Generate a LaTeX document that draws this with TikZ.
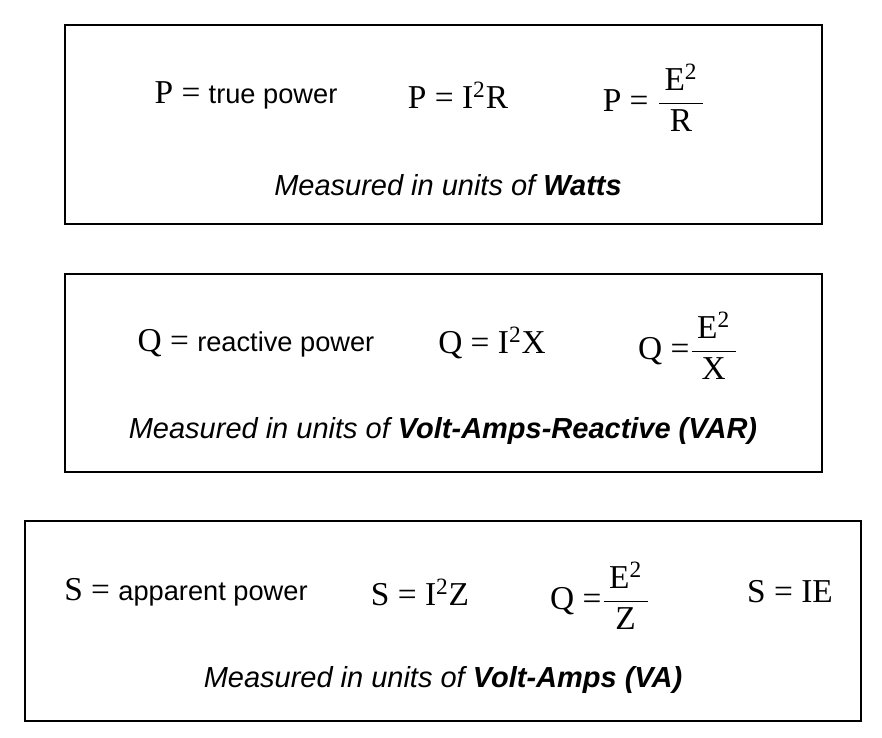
\documentclass[tikz,border=0pt]{standalone}
\usepackage{fontspec}
\setmainfont{Liberation Serif}
\setsansfont{Liberation Sans}
\usetikzlibrary{positioning}
\newcommand{\fr}[2]{$\displaystyle\frac{\mbox{\,#1\textsuperscript{2}\,}}{\mbox{#2}}$}
\newcommand{\sq}[1]{I\textsuperscript{2}#1}
\newcommand{\sfword}[1]{{\fontsize{15.5}{18}\sffamily #1}}

\begin{document}
\begin{tikzpicture}
[x=0.02cm,y=-0.02cm,
panel/.style={draw=black,line width=0.6pt},
eqn/.style={inner sep=0pt,font=\fontsize{19}{22}\selectfont},
units/.style={inner sep=0pt,font=\fontsize{16.5}{20}\sffamily\itshape}]

\useasboundingbox (0,0) rectangle (882,737);

% Boxes
\draw[panel] (65,25) rectangle (822,224);
\draw[panel] (65,274) rectangle (822,472);
\draw[panel] (25,521) rectangle (861,721);

% True power
\node[eqn] (ptrue) at (246,95) {P = \sfword{true power}};
\node[eqn] (pir) at (458,95) {P = \sq{R}};
\node[eqn] (per) at (654,98) {P = \fr{E}{R}};
\node[units] (pw) at (448,185) {Measured in units of \textbf{Watts}};

% Reactive power
\node[eqn] (qreact) at (256,343) {Q = \sfword{reactive power}};
\node[eqn] (qix) at (492,343) {Q = \sq{X}};
\node[eqn] (qex) at (688,346) {Q =\fr{E}{X}};
\node[units] (qw) at (443,431) {Measured in units of \textbf{Volt-Amps-Reactive (VAR)}};

% Apparent power
\node[eqn] (sapp) at (186,592) {S = \sfword{apparent power}};
\node[eqn] (siz) at (420,592) {S = \sq{Z}};
\node[eqn] (sez) at (600,596) {Q =\fr{E}{Z}};
\node[eqn] (sie) at (790,592) {S = IE};
\node[units] (sw) at (443,680) {Measured in units of \textbf{Volt-Amps (VA)}};
\end{tikzpicture}
\end{document}
